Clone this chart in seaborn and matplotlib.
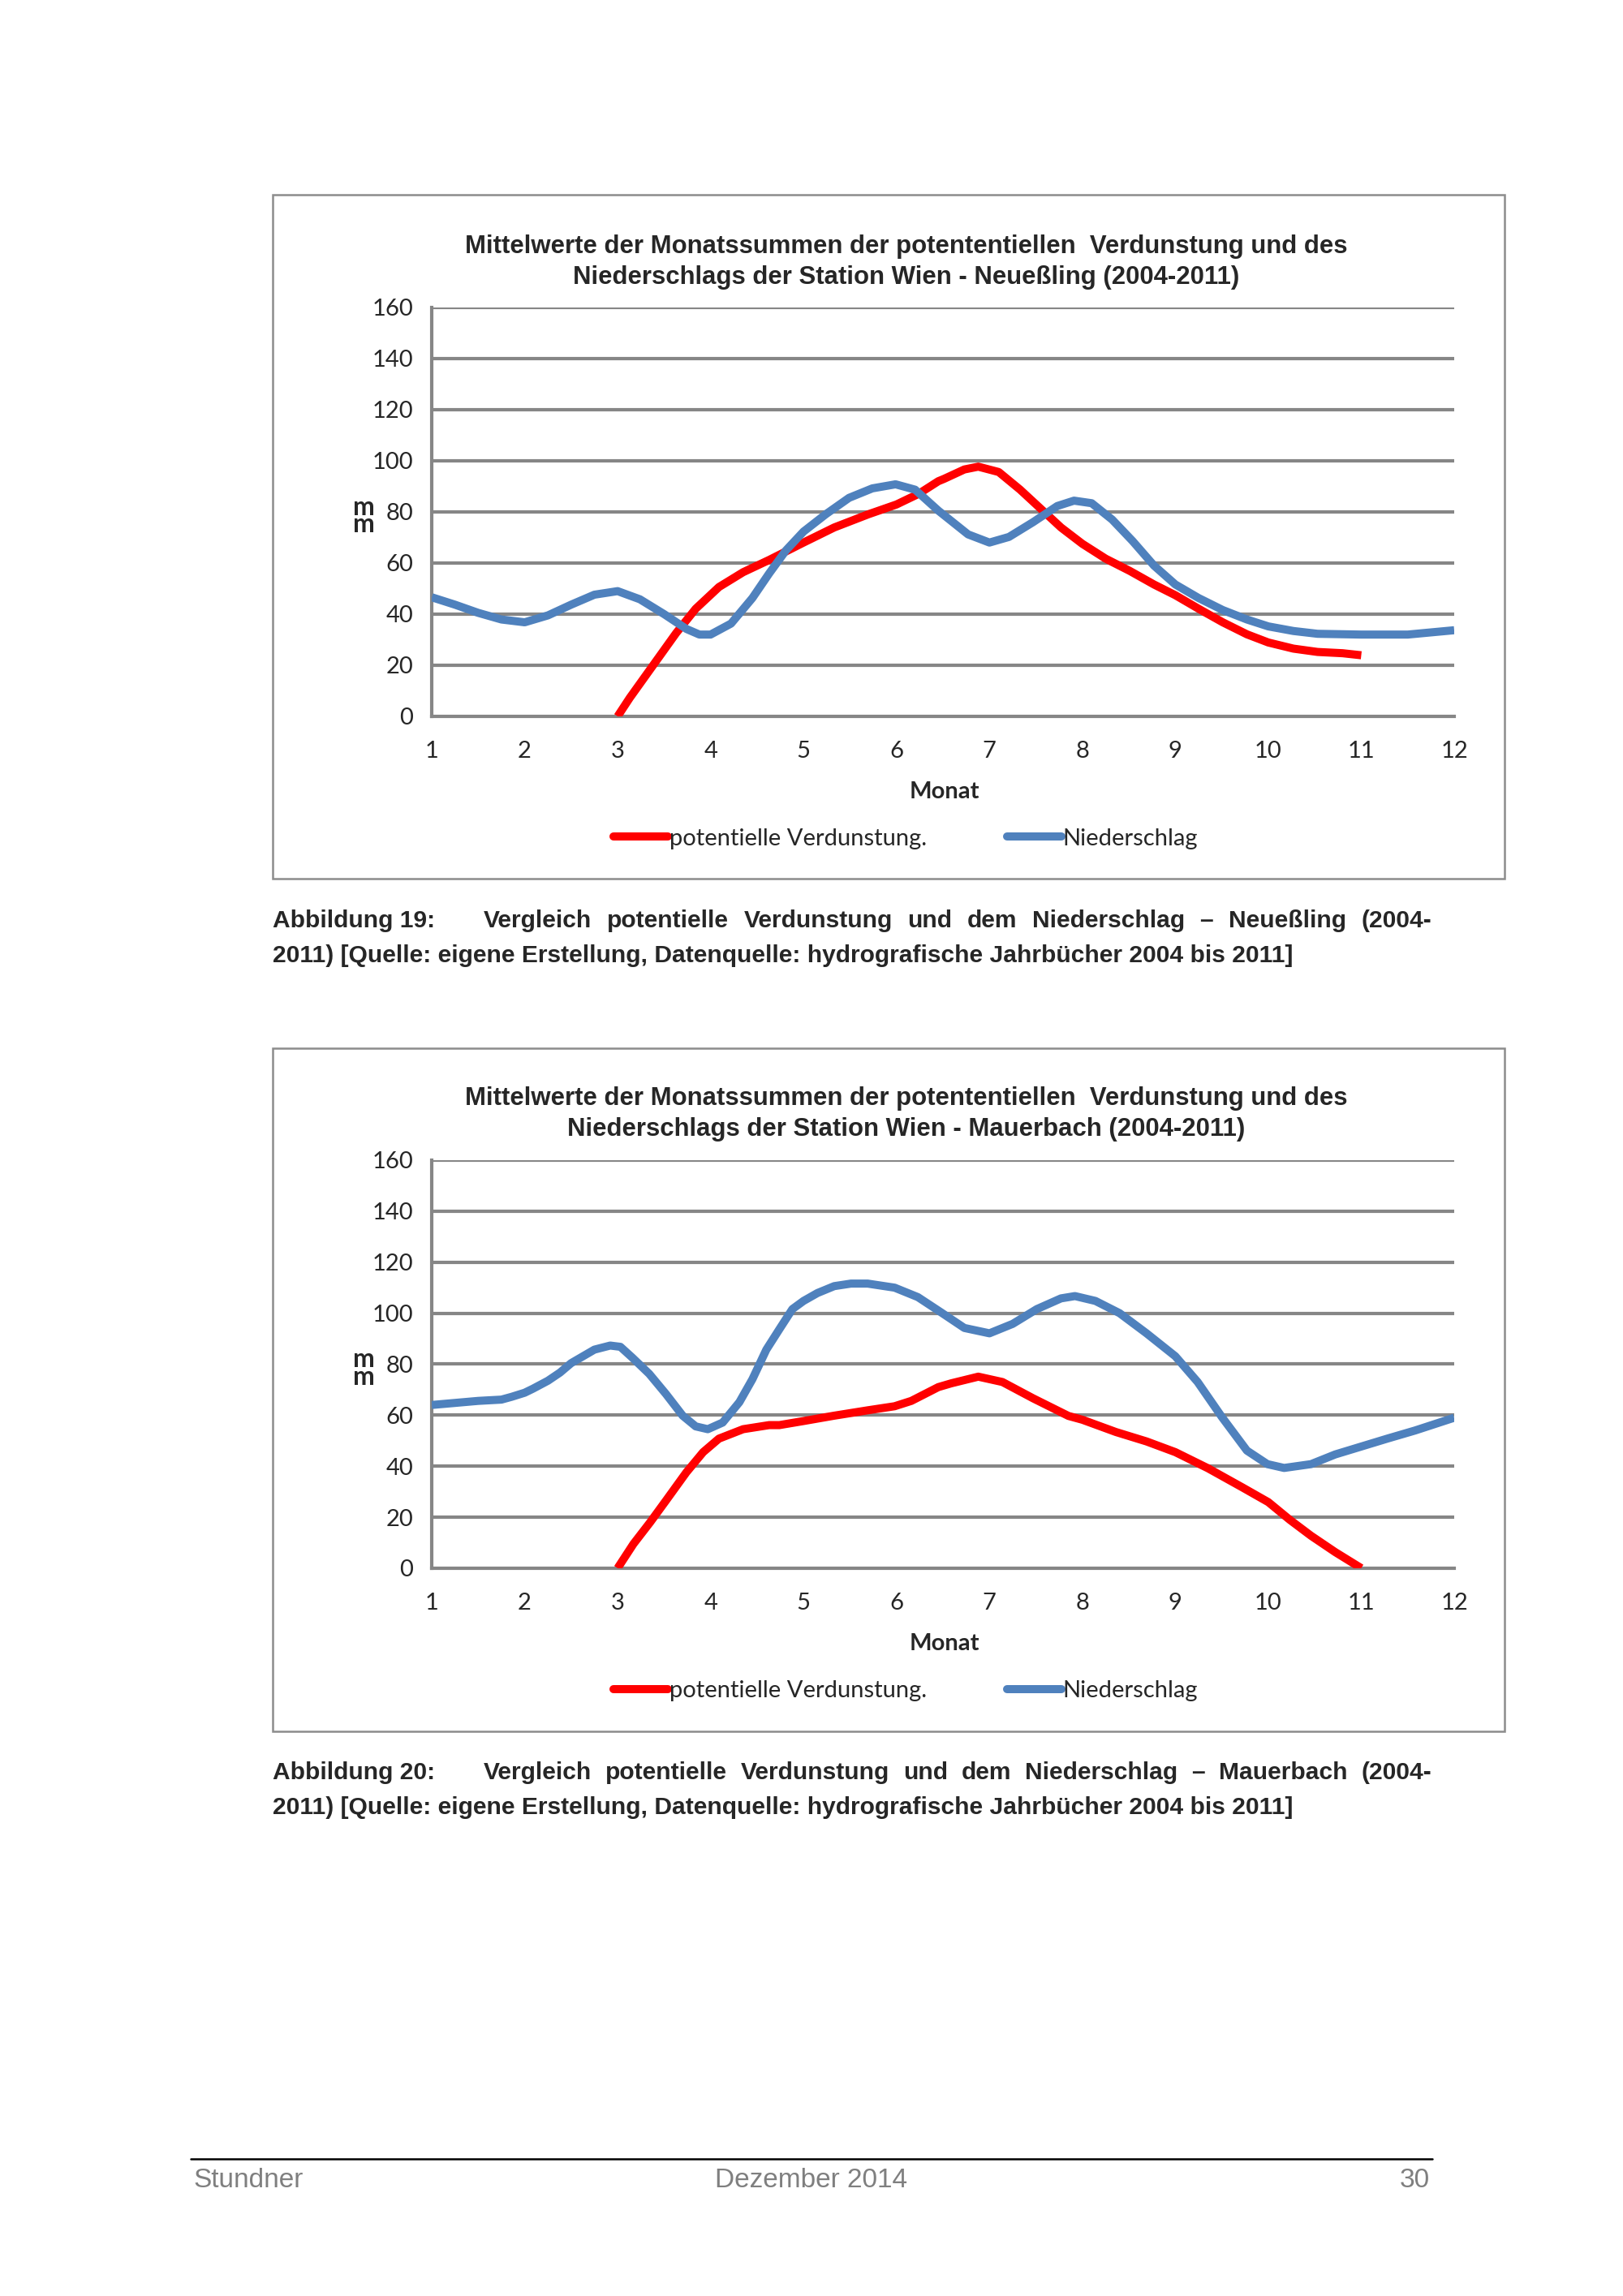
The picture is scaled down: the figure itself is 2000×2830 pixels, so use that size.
import numpy as np
import pandas as pd
import matplotlib
matplotlib.use("Agg")
import matplotlib.pyplot as plt
import seaborn as sns
from matplotlib.patches import Rectangle
from matplotlib.lines import Line2D

# ---------------- data ----------------
months = list(range(1, 13))
yticks = [0, 20, 40, 60, 80, 100, 120, 140, 160]

# Neueßling – potentielle Verdunstung
neu_pet_x = [3, 3.13, 3.38, 3.63, 3.84, 4.09, 4.35, 4.63, 5, 5.33, 5.7, 6, 6.24, 6.45,
             6.51, 6.73, 6.88, 7.1, 7.33, 7.55, 7.77, 8, 8.25, 8.51, 8.77, 9, 9.25, 9.51,
             9.77, 10, 10.27, 10.53, 10.8, 11]
neu_pet_y = [0, 7.2, 19.9, 32.6, 42.1, 50.6, 56.4, 61.2, 68, 73.9, 79.1, 82.9, 87.1, 92.0,
             92.9, 96.6, 97.7, 95.6, 88.7, 81.3, 73.9, 67.5, 61.7, 56.9, 51.6, 47.4, 42.1, 36.8,
             32.1, 28.9, 26.5, 25.2, 24.7, 23.9]
# Neueßling – Niederschlag
neu_nd_x = [1, 1.25, 1.5, 1.75, 2, 2.25, 2.5, 2.75, 3, 3.24, 3.5, 3.74, 3.88, 4, 4.22,
            4.45, 4.63, 4.81, 5, 5.24, 5.49, 5.74, 5.99, 6.2, 6.45, 6.77, 7, 7.21, 7.47,
            7.73, 7.91, 8.1, 8.32, 8.54, 8.77, 9, 9.25, 9.51, 9.77, 10, 10.27, 10.53, 11,
            11.5, 12]
neu_nd_y = [46.6, 43.7, 40.5, 37.9, 36.8, 39.5, 43.7, 47.6, 49, 45.8, 40, 34.2, 32, 32, 36.3,
            46.3, 55.9, 64.9, 72.3, 79.1, 85.5, 89.2, 90.8, 88.7, 80.5, 71.2, 68, 70.2, 76,
            82.3, 84.4, 83.4, 77, 68.6, 59, 51.6, 46.3, 41.6, 37.9, 35.2, 33.4, 32.3, 32,
            32, 33.7]

# Mauerbach – potentielle Verdunstung
mau_pet_x = [3, 3.17, 3.35, 3.52, 3.74, 3.92, 4.09, 4.35, 4.63, 4.74, 5, 5.33, 5.69, 5.98,
             6.16, 6.45, 6.59, 6.88, 7.14, 7.47, 7.85, 8, 8.36, 8.69, 9, 9.35, 9.72, 10,
             10.23, 10.46, 10.72, 11]
mau_pet_y = [0, 9.5, 18, 26.5, 37.6, 45.5, 50.8, 54.5, 56.1, 56.1, 57.7, 59.8, 61.9, 63.5,
             65.6, 71, 72.5, 75.1, 73, 66.6, 59.7, 58.2, 53.4, 49.7, 45.5, 39.2, 31.7, 25.9,
             19, 12.7, 6.3, 0]
# Mauerbach – Niederschlag
mau_nd_x = [1, 1.25, 1.5, 1.75, 1.86, 2, 2.09, 2.25, 2.38, 2.5, 2.75, 2.92, 3.03, 3.16, 3.34,
            3.52, 3.7, 3.84, 3.97, 4.13, 4.31, 4.45, 4.6, 4.74, 4.88, 5, 5.15, 5.33, 5.51,
            5.69, 5.98, 6.23, 6.48, 6.73, 7, 7.25, 7.51, 7.77, 7.92, 8.14, 8.4, 8.69, 9,
            9.24, 9.5, 9.77, 9.99, 10.17, 10.46, 10.72, 11, 11.28, 11.58, 12]
mau_nd_y = [64, 64.8, 65.6, 66.1, 67.2, 68.8, 70.4, 73.5, 76.7, 80.4, 85.7, 87.3, 86.8, 82.5,
            76.2, 68.3, 59.8, 55.6, 54.5, 57.1, 65.1, 74.1, 85.7, 93.7, 101.6, 104.8, 107.9,
            110.6, 111.6, 111.6, 110, 106.3, 100.3, 94.2, 92.1, 95.8, 101.6, 105.8, 106.7,
            104.8, 100, 92.1, 83.1, 73, 59.3, 46.1, 40.8, 39.3, 40.8, 44.6, 47.7, 50.8, 54,
            59]

series_names = ["potentielle Verdunstung.", "Niederschlag"]
colors = {"potentielle Verdunstung.": "#FF0000", "Niederschlag": "#4F81BD"}

titles = [
    ["Mittelwerte der Monatssummen der potententiellen  Verdunstung und des",
     "Niederschlags der Station Wien - Neueßling (2004-2011)"],
    ["Mittelwerte der Monatssummen der potententiellen  Verdunstung und des",
     "Niederschlags der Station Wien - Mauerbach (2004-2011)"],
]
captions = [
    ("Abbildung 19:", "Vergleich potentielle Verdunstung und dem Niederschlag – Neueßling (2004-",
     "2011) [Quelle: eigene Erstellung, Datenquelle: hydrografische Jahrbücher 2004 bis 2011]"),
    ("Abbildung 20:", "Vergleich potentielle Verdunstung und dem Niederschlag – Mauerbach (2004-",
     "2011) [Quelle: eigene Erstellung, Datenquelle: hydrografische Jahrbücher 2004 bis 2011]"),
]

# ---------------- style ----------------
sns.set_theme(style="white")
plt.rcParams['font.family'] = ['Liberation Sans', 'DejaVu Sans']
GRID = "#868686"
TICKFONT = ['Lato', 'DejaVu Sans']
TS = 10.5
LW = 3.6

W, H = 2000, 2830
fig = plt.figure(figsize=(W / 200, H / 200), dpi=200)


def make_df(px, py, nx, ny):
    return pd.concat([
        pd.DataFrame({"Monat": px, "mm": py, "Reihe": series_names[0]}),
        pd.DataFrame({"Monat": nx, "mm": ny, "Reihe": series_names[1]}),
    ], ignore_index=True)


def draw_chart(ax_rect, box_rect, title, title_y, monat_y, legend_y, df):
    fig.add_artist(Rectangle((box_rect[0], box_rect[1]), box_rect[2], box_rect[3],
                             transform=fig.transFigure, fill=False,
                             edgecolor="#8c8c8c", lw=0.9))
    ax = fig.add_axes(ax_rect)
    ax.set_facecolor("none")
    for v in yticks[1:]:
        ax.axhline(v, color=GRID, lw=1.5, zorder=0)
    sns.lineplot(data=df, x="Monat", y="mm", hue="Reihe", palette=colors,
                 estimator=None, sort=False, lw=LW, ax=ax, legend=False, zorder=3)
    for ln in ax.get_lines():
        ln.set_solid_joinstyle("round")
        ln.set_solid_capstyle("butt")
    ax.set_xlim(1, 12)
    ax.set_ylim(0, 160)
    ax.set_xticks(months)
    ax.set_yticks(yticks)
    ax.set_xticklabels([str(m) for m in months], family=TICKFONT, fontsize=TS)
    ax.set_yticklabels([str(v) for v in yticks], family=TICKFONT, fontsize=TS)
    ax.tick_params(axis="y", direction="out", length=3.3, width=1.5, color=GRID, pad=5)
    ax.tick_params(axis="x", direction="out", length=3.3, width=1.5, color=GRID, pad=7.5)
    for s in ["top", "right"]:
        ax.spines[s].set_visible(False)
    for s in ["left", "bottom"]:
        ax.spines[s].set_color(GRID)
        ax.spines[s].set_linewidth(1.5)
    ax.set_xlabel("")
    ax.set_ylabel("")
    ax.text(-0.066, 0.49, "m\nm", transform=ax.transAxes, rotation=0,
            ha="center", va="center", fontweight="bold", fontsize=TS + 1,
            family=TICKFONT, linespacing=0.7)
    fig.text(0.5585, title_y[0], title[0], ha="center", va="center",
             fontsize=11.2, fontweight="bold")
    fig.text(0.5585, title_y[1], title[1], ha="center", va="center",
             fontsize=11.2, fontweight="bold")
    fig.text(0.582, monat_y, "Monat", ha="center", va="center",
             fontsize=TS, fontweight="bold", family=TICKFONT)
    handles = [Line2D([], [], color=colors[n], lw=LW) for n in series_names]
    fig.legend(handles, series_names, loc="center", bbox_to_anchor=(0.558, legend_y),
               ncol=2, frameon=False, handlelength=2.3, handletextpad=0.05,
               columnspacing=3.4, prop={"family": TICKFONT, "size": TS})
    return ax


def justified(words, x0, x1, y, **kw):
    texts = [fig.text(0, y, w, va="center", ha="left", **kw) for w in words]
    r = fig.canvas.get_renderer()
    widths = [t.get_window_extent(r).width / fig.bbox.width for t in texts]
    gap = (x1 - x0 - sum(widths)) / (len(words) - 1)
    x = x0
    for t, w in zip(texts, widths):
        t.set_x(x)
        x += w + gap


CS = 10.8


def caption(cap, y1, y2):
    fig.text(0.168, y1, cap[0], ha="left", va="center", fontsize=CS, fontweight="bold")
    justified(cap[1].split(" "), 0.298, 0.882, y1, fontsize=CS, fontweight="bold")
    fig.text(0.168, y2, cap[2], ha="left", va="center", fontsize=CS, fontweight="bold")


draw_chart([0.266, 0.6880, 0.630, 0.1781], [0.168, 0.6173, 0.759, 0.2979],
           titles[0], (0.8927, 0.8793), 0.6552, 0.6348,
           make_df(neu_pet_x, neu_pet_y, neu_nd_x, neu_nd_y))
draw_chart([0.266, 0.3170, 0.630, 0.1777], [0.168, 0.2459, 0.759, 0.2976],
           titles[1], (0.5217, 0.5082), 0.2841, 0.2635,
           make_df(mau_pet_x, mau_pet_y, mau_nd_x, mau_nd_y))

caption(captions[0], 0.5988, 0.5836)
caption(captions[1], 0.2278, 0.2126)

# footer
fig.add_artist(Line2D([0.1175, 0.8825], [0.0597, 0.0597], transform=fig.transFigure,
                      color="black", lw=0.9))
fig.text(0.119, 0.0505, "Stundner", ha="left", va="center", fontsize=12, color="#7f7f7f")
fig.text(0.5, 0.0505, "Dezember 2014", ha="center", va="center", fontsize=12, color="#7f7f7f")
fig.text(0.881, 0.0505, "30", ha="right", va="center", fontsize=12, color="#7f7f7f")

fig.savefig("out.png", dpi=200, facecolor="white")
